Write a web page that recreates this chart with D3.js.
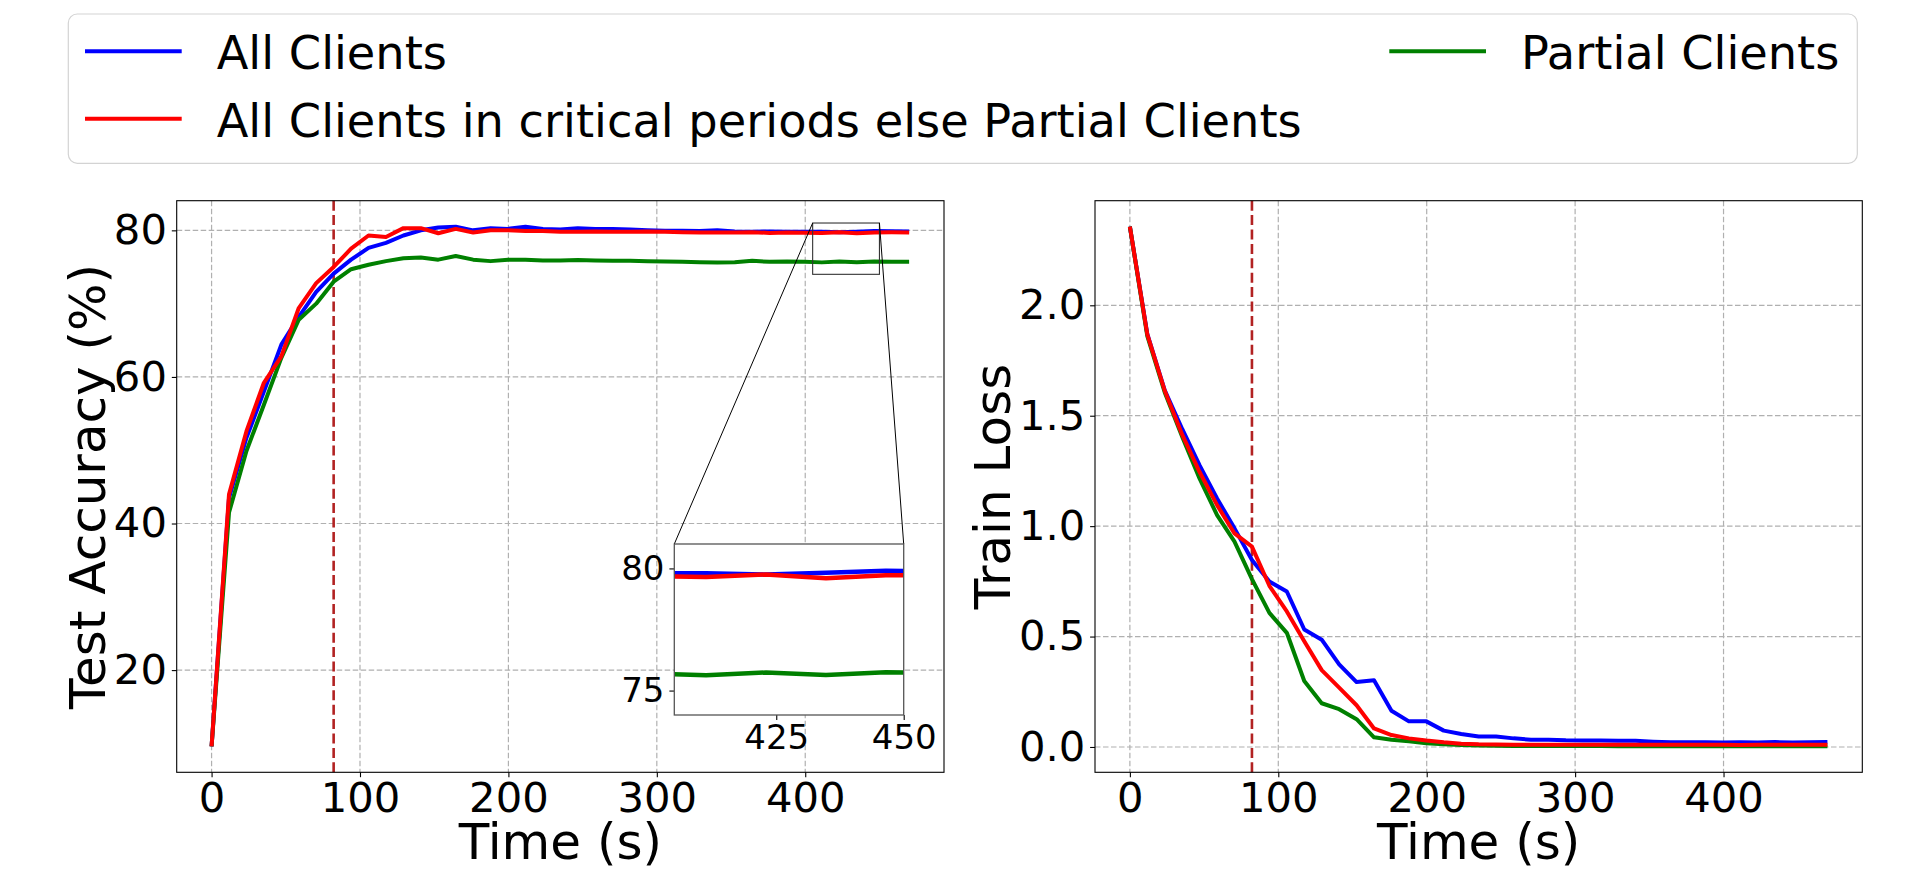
<!DOCTYPE html>
<html>
<head>
<meta charset="utf-8">
<script src="https://cdn.jsdelivr.net/npm/d3@7/dist/d3.min.js"></script>
<style>
  body { margin: 0; background: #fff; }
  svg text { font-family: "DejaVu Sans", sans-serif; fill: #000; }
</style>
</head>
<body>
<svg width="1930" height="870"></svg>
<script>
// time stamps of each evaluation round (s)
var times = [0, 11.75, 23.5, 35.25, 47, 58.75, 70.5, 82.25, 94, 105.75, 117.5, 129.25, 141, 152.75,
    164.5, 176.25, 188, 199.75, 211.5, 223.25, 235, 246.75, 258.5, 270.25, 282, 293.75, 305.5,
    317.25, 329, 340.75, 352.5, 364.25, 376, 387.75, 399.5, 411.25, 423, 434.75, 446.5, 458.25, 470];

// test accuracy (%)
var accAll = [9.6, 43.5, 51.7, 58.0, 64.4, 68.2, 71.6, 74.1, 76.0, 77.6, 78.3, 79.3, 80.0, 80.4,
    80.5, 80.0, 80.3, 80.2, 80.5, 80.2, 80.1, 80.3, 80.2, 80.2, 80.1, 80.0, 79.95, 79.95, 79.9,
    80.0, 79.85, 79.8, 79.85, 79.8, 79.8, 79.8, 79.75, 79.82, 79.9, 79.87, 79.85];
var accCritical = [9.6, 44.0, 52.6, 59.2, 62.8, 69.4, 72.8, 75.0, 77.5, 79.3, 79.1, 80.3, 80.3, 79.6,
    80.2, 79.7, 80.0, 80.0, 79.9, 79.9, 79.8, 79.8, 79.85, 79.8, 79.8, 79.85, 79.8, 79.75, 79.7,
    79.7, 79.7, 79.75, 79.65, 79.7, 79.68, 79.65, 79.75, 79.6, 79.72, 79.73, 79.72];
var accPartial = [9.6, 41.5, 49.9, 56.2, 62.6, 67.8, 70.0, 73.0, 74.7, 75.3, 75.8, 76.2, 76.3, 76.0,
    76.5, 76.0, 75.8, 76.0, 76.0, 75.9, 75.9, 75.95, 75.9, 75.85, 75.85, 75.8, 75.75, 75.7, 75.65,
    75.6, 75.65, 75.85, 75.7, 75.75, 75.7, 75.63, 75.74, 75.64, 75.75, 75.72, 75.72];

// train loss
var lossAll = [2.356, 1.87, 1.615, 1.44, 1.275, 1.125, 0.99, 0.847, 0.749, 0.704, 0.532, 0.486, 0.374,
    0.294, 0.302, 0.164, 0.116, 0.116, 0.074, 0.059, 0.047, 0.047, 0.039, 0.033, 0.033, 0.030, 0.029,
    0.029, 0.028, 0.028, 0.024, 0.021, 0.021, 0.021, 0.020, 0.021, 0.020, 0.022, 0.020, 0.021, 0.022];
var lossCritical = [2.356, 1.868, 1.613, 1.414, 1.245, 1.095, 0.967, 0.907, 0.730, 0.614, 0.479, 0.348,
    0.269, 0.189, 0.084, 0.054, 0.039, 0.029, 0.021, 0.015, 0.012, 0.011, 0.010, 0.010, 0.010, 0.010,
    0.010, 0.010, 0.010, 0.010, 0.010, 0.010, 0.010, 0.010, 0.010, 0.009, 0.010, 0.010, 0.010, 0.010, 0.010];
var lossPartial = [2.356, 1.86, 1.605, 1.405, 1.215, 1.05, 0.93, 0.76, 0.607, 0.517, 0.299, 0.198, 0.171,
    0.126, 0.044, 0.033, 0.026, 0.017, 0.012, 0.009, 0.007, 0.006, 0.005, 0.005, 0.004, 0.004, 0.004,
    0.004, 0.003, 0.003, 0.003, 0.003, 0.003, 0.003, 0.003, 0.003, 0.003, 0.003, 0.003, 0.003, 0.003];

var criticalEnd = 82.25;
var seriesNames = ["All Clients", "All Clients in critical periods else Partial Clients", "Partial Clients"];

var timeTicks = [0, 100, 200, 300, 400];
var accTicks = [20, 40, 60, 80];
var lossTicks = [0, 0.5, 1.0, 1.5, 2.0];
var insetTimeRange = [405, 450];
var insetAccRange = [74, 81];
var insetTimeTicks = [425, 450];
var insetAccTicks = [75, 80];

var colors = ["#0000ff", "#ff0000", "#008000"];
var drawOrder = [0, 2, 1];

var svg = d3.select("svg");
var plotTop = 200.7, plotBottom = 772.3;
var tickFont = 41.7, labelFont = 50;

// matplotlib style 5% margins
function padded(values) {
    var lo = d3.min(values), hi = d3.max(values), s = hi - lo;
    return [lo - 0.05 * s, hi + 0.05 * s];
}

function drawPanel(opt) {
    var x = d3.scaleLinear().domain(padded(times)).range([opt.left, opt.right]);
    var y = d3.scaleLinear().domain(padded([].concat.apply([], opt.series))).range([plotBottom, plotTop]);
    var g = svg.append("g");

    // grid
    g.selectAll(".gx").data(timeTicks).enter().append("line")
        .attr("x1", d => x(d)).attr("x2", d => x(d))
        .attr("y1", plotTop).attr("y2", plotBottom)
        .attr("stroke", "#b0b0b0").attr("stroke-width", 1.2).attr("stroke-dasharray", "5.5,2.5");
    g.selectAll(".gy").data(opt.yTicks).enter().append("line")
        .attr("x1", opt.left).attr("x2", opt.right)
        .attr("y1", d => y(d)).attr("y2", d => y(d))
        .attr("stroke", "#b0b0b0").attr("stroke-width", 1.2).attr("stroke-dasharray", "5.5,2.5");

    // critical period boundary
    g.append("line")
        .attr("x1", x(criticalEnd)).attr("x2", x(criticalEnd))
        .attr("y1", plotTop).attr("y2", plotBottom)
        .attr("stroke", "#b22222").attr("stroke-width", 2.6).attr("stroke-dasharray", "10,4.4");

    // lines
    var line = d3.line().x((d, i) => x(times[i])).y(d => y(d));
    drawOrder.forEach(function(k) {
        g.append("path")
            .attr("d", line(opt.series[k]))
            .attr("fill", "none")
            .attr("stroke", colors[k])
            .attr("stroke-width", opt.lineWidth)
            .attr("stroke-linejoin", "round");
    });

    // axes
    var ax = g.append("g")
        .attr("transform", "translate(0," + plotBottom + ")")
        .call(d3.axisBottom(x).tickValues(timeTicks).tickSize(4.9).tickPadding(4.9).tickSizeOuter(0));
    var ay = g.append("g")
        .attr("transform", "translate(" + opt.left + ",0)")
        .call(d3.axisLeft(y).tickValues(opt.yTicks).tickFormat(opt.yFormat).tickSize(4.9).tickPadding(4.9).tickSizeOuter(0));
    [ax, ay].forEach(function(a) {
        a.select(".domain").remove();
        a.selectAll("line").attr("stroke", "#000").attr("stroke-width", 1.1);
        a.selectAll("text").style("font-size", tickFont + "px").style("font-family", "DejaVu Sans");
    });

    // frame
    g.append("rect")
        .attr("x", opt.left).attr("y", plotTop)
        .attr("width", opt.right - opt.left).attr("height", plotBottom - plotTop)
        .attr("fill", "none").attr("stroke", "#000").attr("stroke-width", 1.1);

    // labels
    g.append("text")
        .attr("x", (opt.left + opt.right) / 2).attr("y", 859)
        .attr("text-anchor", "middle")
        .style("font-size", labelFont + "px")
        .text("Time (s)");
    g.append("text")
        .attr("transform", "translate(" + opt.labelX + "," + (plotTop + plotBottom) / 2 + ") rotate(-90)")
        .attr("text-anchor", "middle")
        .style("font-size", labelFont + "px")
        .text(opt.yLabel);

    return {x: x, y: y, g: g};
}

var accPanel = drawPanel({
    left: 176.7, right: 944, series: [accAll, accCritical, accPartial],
    yTicks: accTicks, yFormat: d3.format("d"), yLabel: "Test Accuracy (%)", labelX: 105, lineWidth: 4
});
drawPanel({
    left: 1095, right: 1862.3, series: [lossAll, lossCritical, lossPartial],
    yTicks: lossTicks, yFormat: d3.format(".1f"), yLabel: "Train Loss", labelX: 1010, lineWidth: 4
});

// Add zoomed inset
var inset = {left: 674.3, right: 903.7, top: 544, bottom: 715};
var ix = d3.scaleLinear().domain(insetTimeRange).range([inset.left, inset.right]);
var iy = d3.scaleLinear().domain(insetAccRange).range([inset.bottom, inset.top]);
var mx = accPanel.x, my = accPanel.y;

// marked region and connectors
svg.append("rect")
    .attr("x", mx(insetTimeRange[0])).attr("y", my(insetAccRange[1]))
    .attr("width", mx(insetTimeRange[1]) - mx(insetTimeRange[0]))
    .attr("height", my(insetAccRange[0]) - my(insetAccRange[1]))
    .attr("fill", "none").attr("stroke", "#333").attr("stroke-width", 1.1);
svg.append("line")
    .attr("x1", mx(insetTimeRange[0])).attr("y1", my(insetAccRange[1]))
    .attr("x2", inset.left).attr("y2", inset.top)
    .attr("stroke", "#000").attr("stroke-width", 1);
svg.append("line")
    .attr("x1", mx(insetTimeRange[1])).attr("y1", my(insetAccRange[1]))
    .attr("x2", inset.right).attr("y2", inset.top)
    .attr("stroke", "#000").attr("stroke-width", 1);

var ig = svg.append("g");
ig.append("rect")
    .attr("x", inset.left).attr("y", inset.top)
    .attr("width", inset.right - inset.left).attr("height", inset.bottom - inset.top)
    .attr("fill", "#fff");
svg.append("clipPath").attr("id", "insetClip").append("rect")
    .attr("x", inset.left).attr("y", inset.top)
    .attr("width", inset.right - inset.left).attr("height", inset.bottom - inset.top);

var iline = d3.line().x((d, i) => ix(times[i])).y(d => iy(d));
var accSeries = [accAll, accCritical, accPartial];
drawOrder.forEach(function(k) {
    ig.append("path")
        .attr("clip-path", "url(#insetClip)")
        .attr("d", iline(accSeries[k]))
        .attr("fill", "none")
        .attr("stroke", colors[k])
        .attr("stroke-width", 4.5)
        .attr("stroke-linejoin", "round");
});

var iax = ig.append("g")
    .attr("transform", "translate(0," + inset.bottom + ")")
    .call(d3.axisBottom(ix).tickValues(insetTimeTicks).tickFormat(d3.format("d")).tickSize(4.9).tickPadding(4.9).tickSizeOuter(0));
var iay = ig.append("g")
    .attr("transform", "translate(" + inset.left + ",0)")
    .call(d3.axisLeft(iy).tickValues(insetAccTicks).tickFormat(d3.format("d")).tickSize(4.9).tickPadding(4.9).tickSizeOuter(0));
[iax, iay].forEach(function(a) {
    a.select(".domain").remove();
    a.selectAll("line").attr("stroke", "#000").attr("stroke-width", 1.1);
    a.selectAll("text").style("font-size", "34px").style("font-family", "DejaVu Sans");
});
ig.append("rect")
    .attr("x", inset.left).attr("y", inset.top)
    .attr("width", inset.right - inset.left).attr("height", inset.bottom - inset.top)
    .attr("fill", "none").attr("stroke", "#555").attr("stroke-width", 1.3);

// Add legend
var legend = svg.append("g");
legend.append("rect")
    .attr("x", 68.3).attr("y", 14).attr("width", 1789).attr("height", 149.3)
    .attr("rx", 9).attr("fill", "#fff").attr("stroke", "#d3d3d3").attr("stroke-width", 1.2);
var legendPos = [{x: 85, y: 69.3}, {x: 85, y: 136.7}, {x: 1389.3, y: 69.3}];
seriesNames.forEach(function(name, k) {
    var p = legendPos[k];
    legend.append("line")
        .attr("x1", p.x).attr("x2", p.x + 96.7)
        .attr("y1", p.y - 18).attr("y2", p.y - 18)
        .attr("stroke", colors[k]).attr("stroke-width", 4);
    legend.append("text")
        .attr("x", p.x + 131.7).attr("y", p.y)
        .style("font-size", "46.3px")
        .text(name);
});
</script>
</body>
</html>
